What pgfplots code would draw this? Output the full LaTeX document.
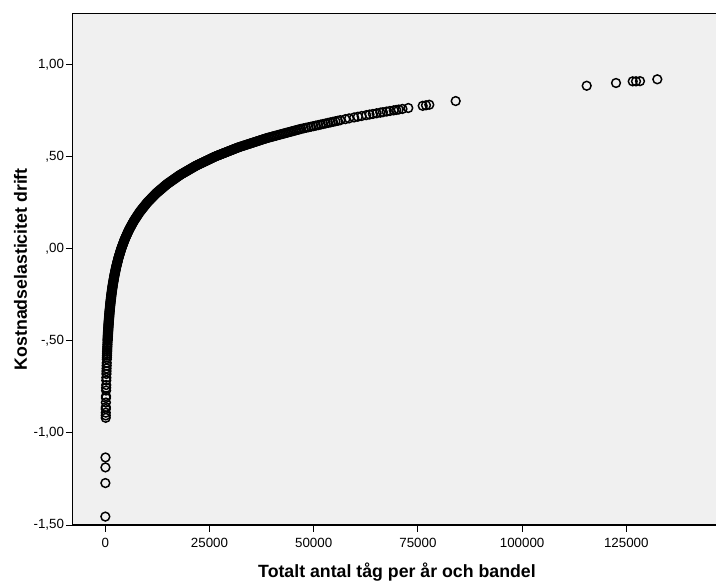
\documentclass[border=0pt]{standalone}
\usepackage{fontspec}
\setmainfont{Liberation Sans}
\usepackage{pgfplots}
\usepackage{pgfplotstable}
\pgfplotsset{compat=1.18}
\definecolor{plotbg}{HTML}{F0F0F0}

% Kostnadselasticitet drift (y) per bandel mot totalt antal tåg per år (x)
\pgfplotstableread{
x y
14 -1.454
29 -1.272
40 -1.187
49 -1.133
112 -0.918
118 -0.905
125 -0.890
135 -0.870
140 -0.860
154 -0.835
170 -0.810
176 -0.800
198 -0.770
210 -0.755
222 -0.740
245 -0.715
259 -0.700
280 -0.680
297 -0.665
314 -0.650
333 -0.635
353 -0.620
381 -0.600
396 -0.590
412 -0.580
428 -0.570
444 -0.560
462 -0.550
480 -0.540
499 -0.530
519 -0.520
539 -0.510
560 -0.500
572 -0.495
584 -0.490
596 -0.485
608 -0.480
620 -0.475
631 -0.470
643 -0.465
655 -0.460
667 -0.455
679 -0.450
693 -0.445
708 -0.440
722 -0.435
737 -0.430
751 -0.425
765 -0.420
780 -0.415
794 -0.410
809 -0.405
823 -0.400
841 -0.395
858 -0.390
876 -0.385
893 -0.380
911 -0.375
928 -0.370
946 -0.365
963 -0.360
981 -0.355
998 -0.350
1019 -0.345
1040 -0.340
1062 -0.335
1083 -0.330
1104 -0.325
1125 -0.320
1146 -0.315
1168 -0.310
1189 -0.305
1210 -0.300
1236 -0.295
1261 -0.290
1287 -0.285
1313 -0.280
1339 -0.275
1364 -0.270
1390 -0.265
1416 -0.260
1441 -0.255
1467 -0.250
1498 -0.245
1529 -0.240
1561 -0.235
1592 -0.230
1623 -0.225
1654 -0.220
1685 -0.215
1717 -0.210
1748 -0.205
1779 -0.200
1817 -0.195
1854 -0.190
1892 -0.185
1930 -0.180
1968 -0.175
2005 -0.170
2043 -0.165
2081 -0.160
2118 -0.155
2156 -0.150
2202 -0.145
2248 -0.140
2293 -0.135
2339 -0.130
2385 -0.125
2431 -0.120
2477 -0.115
2522 -0.110
2568 -0.105
2614 -0.100
2670 -0.095
2725 -0.090
2781 -0.085
2836 -0.080
2892 -0.075
2948 -0.070
3003 -0.065
3059 -0.060
3114 -0.055
3170 -0.050
3237 -0.045
3305 -0.040
3372 -0.035
3439 -0.030
3507 -0.025
3574 -0.020
3641 -0.015
3708 -0.010
3776 -0.005
3843 0.000
3925 0.005
4006 0.010
4088 0.015
4169 0.020
4251 0.025
4333 0.030
4414 0.035
4496 0.040
4577 0.045
4659 0.050
4758 0.055
4857 0.060
4956 0.065
5055 0.070
5154 0.075
5253 0.080
5352 0.085
5451 0.090
5550 0.095
5649 0.100
5769 0.105
5889 0.110
6009 0.115
6129 0.120
6249 0.125
6368 0.130
6488 0.135
6608 0.140
6728 0.145
6848 0.150
6994 0.155
7139 0.160
7285 0.165
7430 0.170
7576 0.175
7721 0.180
7867 0.185
8012 0.190
8158 0.195
8303 0.200
8479 0.205
8656 0.210
8832 0.215
9008 0.220
9185 0.225
9361 0.230
9537 0.235
9713 0.240
9890 0.245
10066 0.250
10280 0.255
10494 0.260
10708 0.265
10922 0.270
11136 0.275
11349 0.280
11563 0.285
11777 0.290
11991 0.295
12205 0.3000
12390 0.3036
12575 0.3071
12760 0.3107
12945 0.3143
13131 0.3179
13316 0.3214
13501 0.3250
13686 0.3286
13871 0.3321
14056 0.3357
14241 0.3393
14426 0.3429
14612 0.3464
14797 0.3500
14993 0.3531
15190 0.3563
15386 0.3594
15583 0.3625
15779 0.3656
15976 0.3688
16172 0.3719
16369 0.3750
16565 0.3781
16761 0.3813
16958 0.3844
17154 0.3875
17351 0.3906
17547 0.3938
17744 0.3969
17940 0.4000
18152 0.4028
18363 0.4056
18575 0.4083
18787 0.4111
18998 0.4139
19210 0.4167
19422 0.4194
19633 0.4222
19845 0.4250
20057 0.4278
20268 0.4306
20480 0.4333
20692 0.4361
20903 0.4389
21115 0.4417
21327 0.4444
21538 0.4472
21750 0.4500
21970 0.4524
22190 0.4548
22410 0.4571
22630 0.4595
22850 0.4619
23070 0.4643
23290 0.4667
23510 0.4690
23730 0.4714
23950 0.4738
24170 0.4762
24390 0.4786
24610 0.4810
24830 0.4833
25050 0.4857
25270 0.4881
25490 0.4905
25710 0.4929
25930 0.4952
26150 0.4976
26370 0.500
26594 0.502
26818 0.504
27042 0.506
27266 0.508
27490 0.510
27714 0.512
27938 0.514
28162 0.516
28386 0.518
28610 0.520
28834 0.522
29058 0.524
29282 0.526
29506 0.528
29730 0.530
29954 0.532
30178 0.534
30402 0.536
30626 0.538
30850 0.540
31074 0.542
31298 0.544
31522 0.546
31746 0.548
31971 0.5500
32311 0.5525
32650 0.5550
32990 0.5575
33329 0.5600
33669 0.5625
34008 0.5650
34348 0.5675
34687 0.5700
35027 0.5725
35366 0.5750
35706 0.5775
36045 0.5800
36385 0.5825
36724 0.5850
37064 0.5875
37403 0.5900
37743 0.5925
38082 0.5950
38422 0.5975
38761 0.6000
39135 0.6023
39509 0.6045
39884 0.6068
40258 0.6091
40632 0.6114
41006 0.6136
41380 0.6159
41755 0.6182
42129 0.6205
42503 0.6227
42877 0.6250
43251 0.6273
43626 0.6295
44000 0.6318
44374 0.6341
44748 0.6364
45122 0.6386
45497 0.6409
45871 0.6432
46245 0.6455
46619 0.6477
46994 0.6500
47581 0.6529
48168 0.6559
48756 0.6588
49343 0.6618
49930 0.6647
50517 0.6676
51104 0.6706
51692 0.6735
52279 0.6765
52866 0.6794
53453 0.6824
54040 0.6853
54628 0.6882
55215 0.6912
55802 0.6941
56389 0.6971
57600 0.7028
58500 0.7069
59700 0.7121
60600 0.7160
61500 0.7198
62600 0.7244
63400 0.7277
64200 0.7310
65100 0.7346
66000 0.7382
66600 0.7405
67500 0.7440
68300 0.7471
69200 0.7505
69800 0.7527
70400 0.7549
71300 0.7582
72700 0.7633
76151 0.775
76943 0.778
77735 0.781
84069 0.801
115499 0.884
122530 0.899
126535 0.908
127327 0.908
128287 0.909
132438 0.919
}\elasticitet

\begin{document}
\begin{tikzpicture}
\begin{axis}[
  name=ax,
  scale only axis,
  width=482.5pt, height=383.8pt,
  xmin=-7820, xmax=146520,
  ymin=-1.5, ymax=1.277,
  axis background/.style={fill=plotbg},
  axis x line*=bottom,
  axis y line*=left,
  axis line style={line width=0.9pt, black},
  every tick/.style={line width=0.8pt, black},
  tick align=outside,
  major tick length=5pt,
  scaled x ticks=false,
  xtick={0,25000,50000,75000,100000,125000},
  xticklabels={0,25000,50000,75000,100000,125000},
  ytick={-1.5,-1,-0.5,0,0.5,1},
  yticklabels={{-1,50},{-1,00},{-,50},{,00},{,50},{1,00}},
  tick label style={font=\fontsize{10}{12}\selectfont, inner sep=1.3pt},
  x tick label style={yshift=-3pt},
  xlabel={Totalt antal tåg per år och bandel},
  ylabel={Kostnadselasticitet drift},
  label style={font=\fontsize{13.3}{15}\selectfont\bfseries},
  xlabel style={at={([xshift=2pt,yshift=-39pt]rel axis cs:0.5,0)}, anchor=base},
  ylabel style={at={([xshift=-34.3pt]rel axis cs:0,0.5)}, anchor=base},
  clip=false,
]
\addplot[only marks, mark=o, mark size=3.3pt,
  mark options={draw=black, fill=none, line width=1.1pt}]
  table[x=x, y=y] {\elasticitet};
\draw[line width=0.9pt] (rel axis cs:0,1) -- (rel axis cs:1,1);
\end{axis}
\pgfresetboundingbox
\path[use as bounding box] ([xshift=-54.5pt,yshift=-43.5pt]ax.south west) rectangle ([yshift=10pt]ax.north east);
\end{tikzpicture}
\end{document}
